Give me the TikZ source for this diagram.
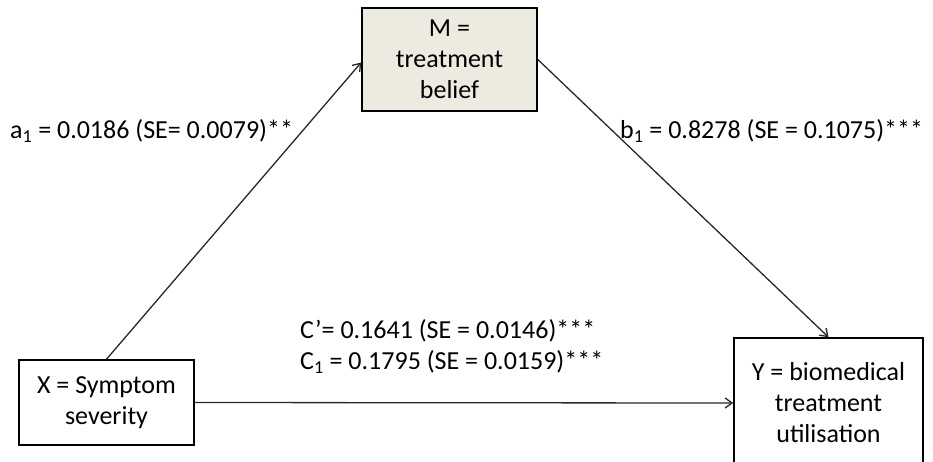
\documentclass[tikz,border=0pt]{standalone}
\usepackage{fontspec}
\setmainfont{Carlito}
\usetikzlibrary{arrows.meta}
\definecolor{beige}{RGB}{237,234,223}
\definecolor{linegray}{RGB}{40,40,40}
\tikzset{
  varbox/.style={draw=black, line width=1.6pt, align=center, inner sep=0pt,
    font=\fontsize{26}{31}\selectfont},
  path/.style={draw=linegray, line width=1.3pt, -{Straight Barb[length=7pt,width=10pt]}},
  coef/.style={anchor=west, inner sep=0pt, font=\fontsize{26}{31}\selectfont}
}
\begin{document}
\begin{tikzpicture}[x=1pt,y=1pt]
\useasboundingbox (0,0) rectangle (933,-461);
\node[varbox, fill=beige, minimum width=175pt, minimum height=103pt] (M) at (449.5,-59.5) {M =\\treatment\\belief};
\node[varbox, minimum width=175pt, minimum height=85pt] (X) at (106.5,-402.5) {X = Symptom\\severity};
\node[varbox, minimum width=189pt, minimum height=130pt] (Y) at (828.5,-403) {Y = biomedical\\treatment\\utilisation};
\draw[path] (X.north) -- ([yshift=-3pt]M.west);
\draw[path] (M.east) -- (Y.north);
\draw[path] (X.east) -- (Y.west);
\node[coef] (la) at (10,-131) {a\textsubscript{1} = 0.0186 (SE= 0.0079)**};
\node[coef] (lb) at (620,-131) {b\textsubscript{1} = 0.8278 (SE = 0.1075)***};
\node[coef] (lc1) at (300,-331) {C’= 0.1641 (SE = 0.0146)***};
\node[coef] (lc2) at (300,-362) {C\textsubscript{1} = 0.1795 (SE = 0.0159)***};
\end{tikzpicture}
\end{document}
